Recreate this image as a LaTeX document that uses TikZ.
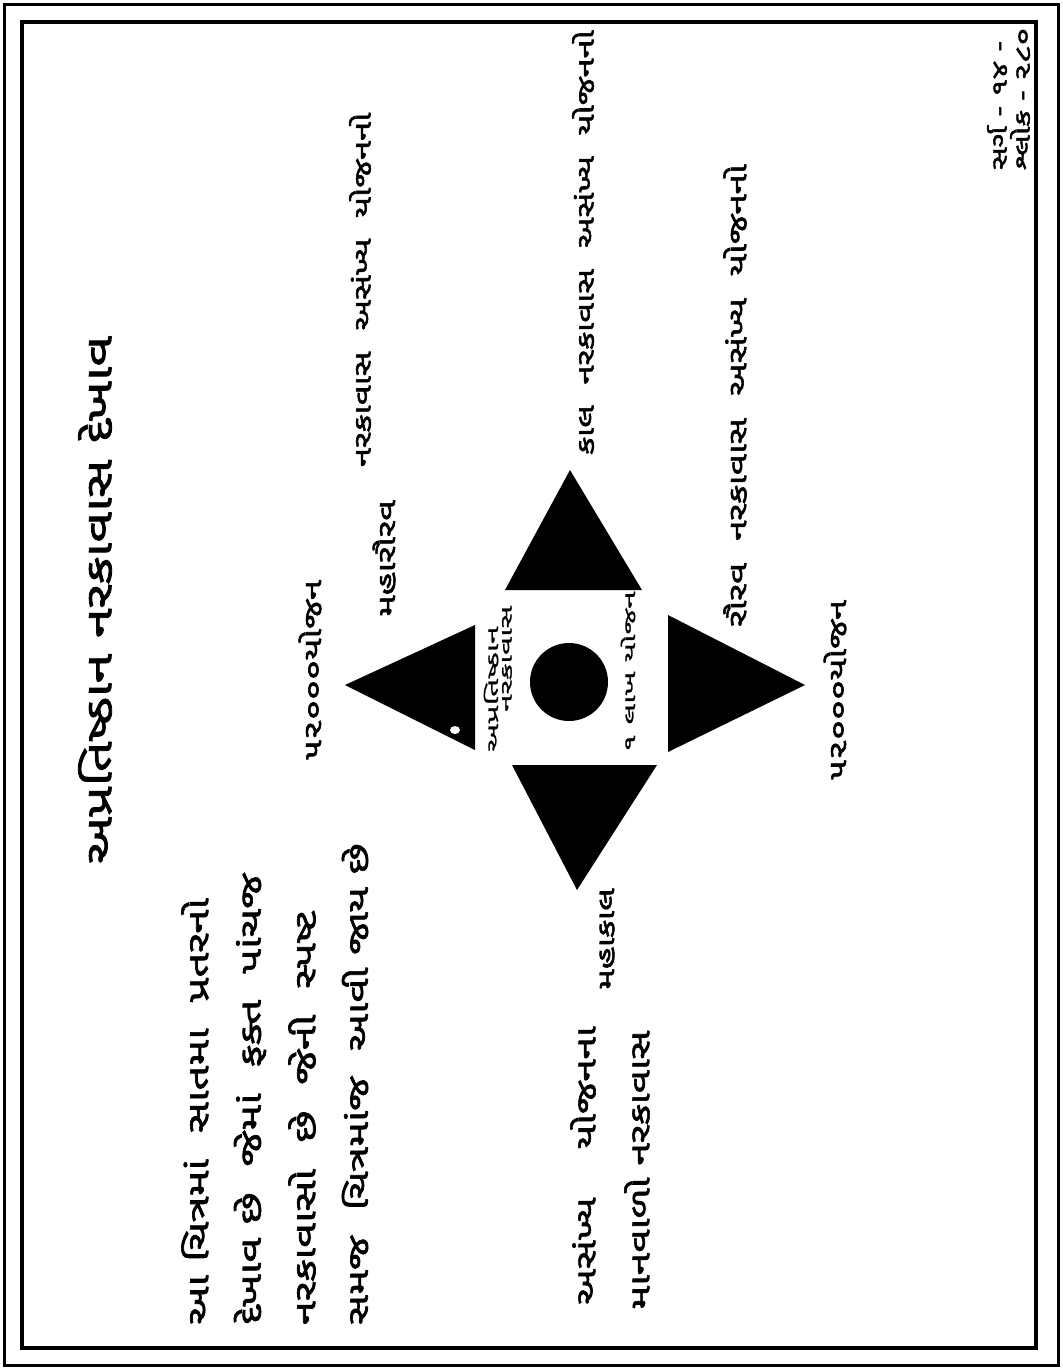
\documentclass[tikz,border=0pt]{standalone}
\usepackage{fontspec}
\newfontfamily\guj[Script=Gujarati,FakeStretch=1.45,FakeBold=2.2]{Noto Sans Gujarati UI}
\newfontfamily\gujs[Script=Gujarati,FakeStretch=2,FakeBold=1.5]{Noto Sans Gujarati UI}
\newcommand{\gsz}[1]{\guj\fontsize{#1}{#1}\selectfont}
\newcommand{\gss}[1]{\gujs\fontsize{#1}{#1}\selectfont}
\begin{document}
\begin{tikzpicture}[x=1pt,y=-1pt,
  lbl/.style={rotate=90,inner sep=0pt,anchor=west,font=\gsz{25}},
  small/.style={rotate=90,inner sep=0pt,anchor=west,font=\gss{16}},
  blk/.style={fill=black,draw=none}]
\useasboundingbox (0,0) rectangle (1063,1369);
% frame
\draw[line width=3pt] (4,4) rectangle (1058,1365);
\draw[line width=4pt] (22,22) rectangle (1036,1348);
% shapes
\fill[blk] (345,685) -- (475,625) -- (475,750) -- cycle;
\fill[white] (455,730) ellipse (5 and 4);
\fill[blk] (570,470) -- (642,590) -- (505,590) -- cycle;
\fill[blk] (805,685) -- (668,615) -- (668,752) -- cycle;
\fill[blk] (577,890) -- (512,765) -- (657,765) -- cycle;
\node[blk,circle,minimum size=78pt,inner sep=0pt] (core) at (569,682) {};
% title and reference
\node[lbl,anchor=center,font=\gsz{37}] (title) at (95,600) {અપ્રતિષ્ઠાન નરકાવાસ દેખાવ};
\node[lbl,font=\gsz{22}] (sarga) at (997,170) {સર્ગ - ૧૪ -};
\node[lbl,font=\gsz{22}] (shloka) at (1020,170) {શ્લોક - ૨૮૦};
% left paragraph
\node[lbl,font=\gsz{30}] (p1) at (195,1325) {આ ચિત્રમાં \ સાતમા \ પ્રતરનો};
\node[lbl,font=\gsz{30}] (p2) at (250,1325) {દેખાવ છે \ જેમાં \ ફક્ત \ પાંચજ};
\node[lbl,font=\gsz{30}] (p3) at (302,1325) {નરકાવાસો \ છે \ જેની \ સ્પષ્ટ};
\node[lbl,font=\gsz{29}] (p4) at (355,1325) {સમજ \ ચિત્રમાંજ \ આવી જાય છે};
% bottom note
\node[lbl,font=\gsz{28}] (b1) at (583,1305) {અસંખ્ય \ \ \ યોજનના};
\node[lbl,font=\gsz{28}] (b2) at (637,1310) {માનવાળો નરકાવાસ};
% labels around the shapes
\node[lbl] (mr1) at (384,617) {મહારૌરવ};
\node[lbl,font=\gsz{24}] (mr2) at (360,467) {નરકાવાસ \ અસંખ્ય \ યોજનનો};
\node[lbl,font=\gsz{24}] (kala) at (583,455) {કાલ \ નરકાવાસ \ અસંખ્ય \ યોજનનો};
\node[lbl,font=\gsz{25.5}] (raurava) at (735,627) {રૌરવ \ નરકાવાસ \ અસંખ્ય \ યોજનનો};
\node[lbl,font=\gsz{24}] (mk) at (607,990) {મહાકાલ};
\node[lbl] (yl) at (310,760) {૫૨૦૦૦યોજન};
\node[lbl] (yr) at (835,780) {૫૨૦૦૦યોજન};
\node[small] (c1) at (491,752) {અપ્રતિષ્ઠાન};
\node[small] (c2) at (507,712) {નરકાવાસ};
\node[lbl,font=\gss{16}] (lakh) at (628,752) {૧ લાખ યોજન};
\end{tikzpicture}
\end{document}
